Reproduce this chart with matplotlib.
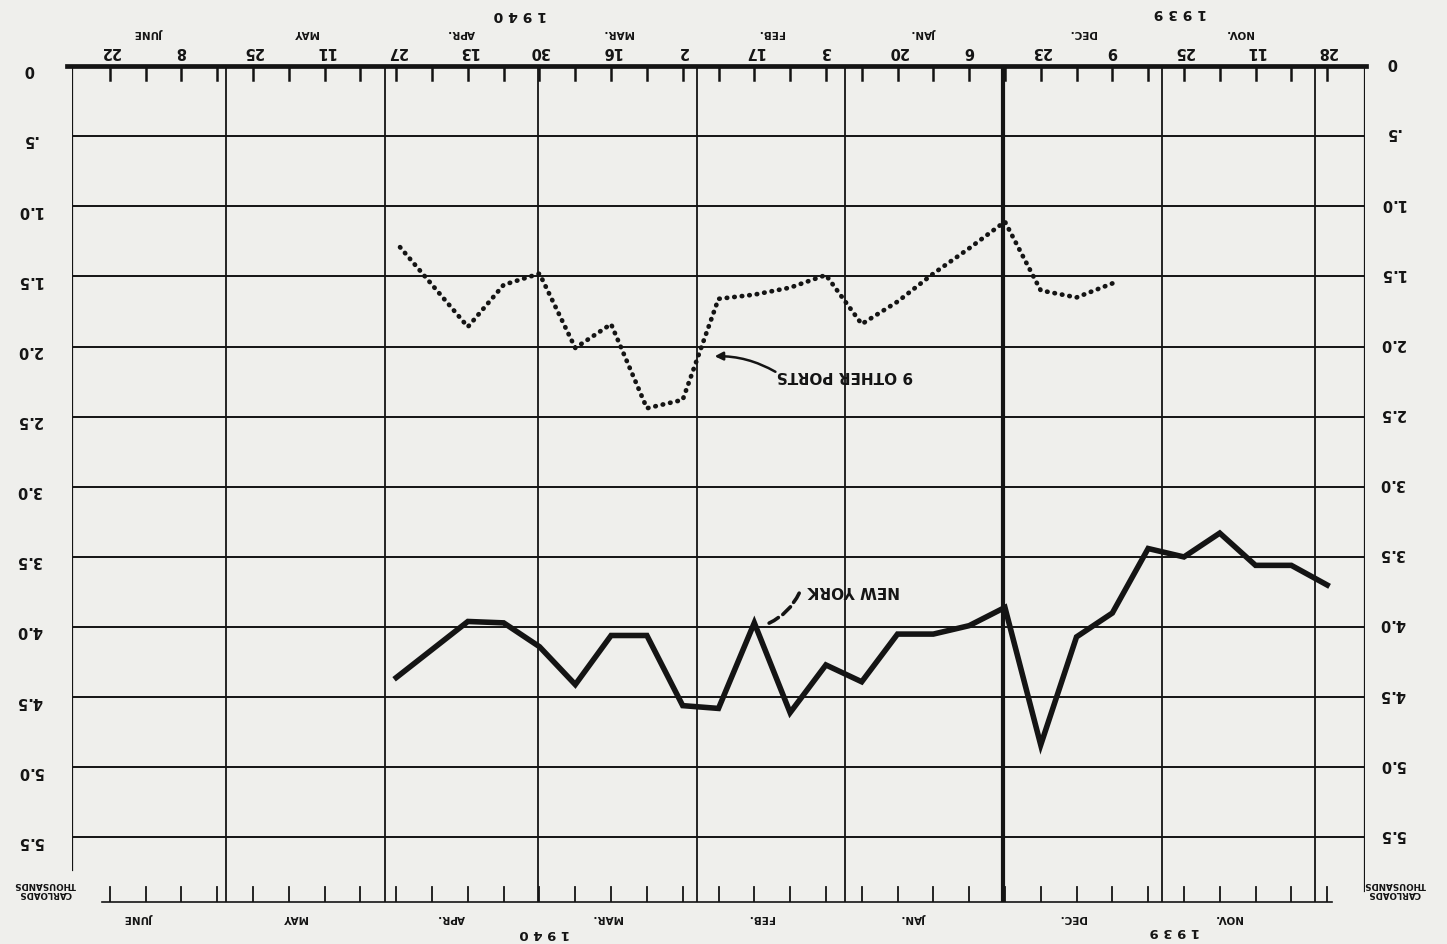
import matplotlib
matplotlib.use("Agg")
import matplotlib.pyplot as plt
import matplotlib.dates as mdates
import matplotlib.transforms as mtransforms

# weekly carloads (thousands) -- the page is printed upside down
ny_weeks = ["1939-10-28", "1939-11-04", "1939-11-11", "1939-11-18", "1939-11-25",
            "1939-12-02", "1939-12-09", "1939-12-16", "1939-12-23", "1939-12-30",
            "1940-01-06", "1940-01-13", "1940-01-20", "1940-01-27", "1940-02-03",
            "1940-02-10", "1940-02-17", "1940-02-24", "1940-03-02", "1940-03-09",
            "1940-03-16", "1940-03-23", "1940-03-30", "1940-04-06", "1940-04-13",
            "1940-04-20", "1940-04-27"]
ny_values = [3.70, 3.56, 3.56, 3.33, 3.50, 3.44, 3.90, 4.07, 4.84, 3.86,
             3.99, 4.05, 4.05, 4.39, 4.27, 4.61, 3.97, 4.58, 4.56, 4.06,
             4.06, 4.41, 4.14, 3.97, 3.96, 4.16, 4.36]

other_weeks = ny_weeks[6:]
other_values = [1.55, 1.65, 1.60, 1.11, 1.30, 1.48, 1.68, 1.84, 1.49, 1.58,
                1.63, 1.66, 2.38, 2.44, 1.84, 2.01, 1.48, 1.56, 1.86, 1.56, 1.26]

# axis furniture
tick_weeks = ["1939-10-28", "1939-11-04", "1939-11-11", "1939-11-18", "1939-11-25",
              "1939-12-02", "1939-12-09", "1939-12-16", "1939-12-23", "1939-12-30",
              "1940-01-06", "1940-01-13", "1940-01-20", "1940-01-27", "1940-02-03",
              "1940-02-10", "1940-02-17", "1940-02-24", "1940-03-02", "1940-03-09",
              "1940-03-16", "1940-03-23", "1940-03-30", "1940-04-06", "1940-04-13",
              "1940-04-20", "1940-04-27", "1940-05-04", "1940-05-11", "1940-05-18",
              "1940-05-25", "1940-06-01", "1940-06-08", "1940-06-15", "1940-06-22"]
labeled_weeks = tick_weeks[::2]
month_starts = ["1939-11-01", "1939-12-01", "1940-01-01", "1940-02-01", "1940-03-01",
                "1940-04-01", "1940-05-01", "1940-06-01", "1940-07-01"]
month_names = ["NOV.", "DEC.", "JAN.", "FEB.", "MAR.", "APR.", "MAY", "JUNE"]
y_grid = [0.5, 1.0, 1.5, 2.0, 2.5, 3.0, 3.5, 4.0, 4.5, 5.0, 5.5]
y_labels = ["0", ".5", "1.0", "1.5", "2.0", "2.5", "3.0", "3.5", "4.0", "4.5", "5.0", "5.5"]
y_label_pos = [0.0] + y_grid

BG = "#efefec"
INK = "#141414"
FONT = "DejaVu Sans"
MONTH_SHIFT = -1.7  # month rules sit a little ahead of the 1st on the original

fig = plt.figure(figsize=(14.47, 9.45), dpi=100)
fig.patch.set_facecolor(BG)
ax = fig.add_axes([72 / 1447, 1 - 903 / 945, (1365 - 72) / 1447, (903 - 67) / 945])
ax.set_facecolor(BG)
for s in ax.spines.values():
    s.set_visible(False)
ax.set_xticks([])
ax.set_yticks([])

x0 = mdates.datestr2num("1939-10-28")
ax.set_xlim(x0 + 245.4, x0 - 7.4)
ax.set_ylim(5.96, 0)
Y_BOT = 5.96

ticks = mdates.datestr2num(tick_weeks)
months = mdates.datestr2num(month_starts) + MONTH_SHIFT

# grid
for v in y_grid:
    ax.axhline(v, color=INK, lw=1.4, zorder=1)
for i, m in enumerate(months[:-1]):
    lw = 3.0 if month_starts[i] == "1940-01-01" else 1.3
    ax.axvline(m, color=INK, lw=lw, zorder=1)
# borders
ax.plot([x0 + 245.4] * 2, [0, 5.73], color=INK, lw=1.6, zorder=1)
ax.plot([x0 - 7.4] * 2, [0, 5.88], color=INK, lw=1.6, zorder=1)
ax.plot([x0 + 246.3, x0 - 7.6], [0, 0], color=INK, lw=3.4, clip_on=False, zorder=3)
ax.plot([x0 + 239.5, x0 - 1.0], [Y_BOT, Y_BOT], color=INK, lw=1.2, clip_on=False, zorder=3)

# weekly ticks
for t in ticks:
    ax.plot([t, t], [0, 0.1], color=INK, lw=1.8, zorder=3)
    ax.plot([t, t], [Y_BOT, Y_BOT - 0.11], color=INK, lw=1.3, zorder=3)

txt = dict(rotation=180, ha="center", va="center", color=INK, family=FONT,
           fontweight="bold", clip_on=False)

for d in labeled_weeks:
    ax.text(mdates.datestr2num(d), -0.11, str(int(d[-2:])), fontsize=10.5, **txt)

for i, name in enumerate(month_names):
    mid = (months[i] + months[i + 1]) / 2
    ax.text(mid, -0.245, name, fontsize=7.5, **txt)
    ax.text(mid + 2, 6.065, name, fontsize=7.5, **txt)

ax.text(x0 + 157.8, -0.37, "1 9 4 0", fontsize=10, **txt)
ax.text(x0 + 28.7, -0.385, "1 9 3 9", fontsize=10, **txt)
ax.text(x0 + 153.0, 6.18, "1 9 4 0", fontsize=9.5, **txt)
ax.text(x0 + 29.7, 6.16, "1 9 3 9", fontsize=9.5, **txt)

trans = mtransforms.blended_transform_factory(ax.transAxes, ax.transData)
for lab, v in zip(y_labels, y_label_pos):
    ax.text(-0.033, v + 0.02, lab, fontsize=10.5, transform=trans, **txt)
    ax.text(1.021, v - 0.03, lab, fontsize=10.5, transform=trans, **txt)
ax.text(-0.021, 5.86, "CARLOADS\nTHOUSANDS", fontsize=6.3, linespacing=1.0,
        transform=trans, **txt)
ax.text(1.023, 5.86, "CARLOADS\nTHOUSANDS", fontsize=6.3, linespacing=1.0,
        transform=trans, **txt)

# series
ax.plot(mdates.datestr2num(ny_weeks), ny_values, color=INK, lw=4.0,
        solid_joinstyle="miter", zorder=4)
ax.plot(mdates.datestr2num(other_weeks), other_values, color=INK, lw=3.4,
        linestyle=(0, (0.1, 1.5)), dash_capstyle="round", zorder=4)

# labels with arrows
ax.text(x0 + 94.3, 2.20, "9 OTHER PORTS", fontsize=11, **txt)
ax.annotate("", xy=(x0 + 120.3, 2.07), xytext=(x0 + 107.4, 2.19),
            arrowprops=dict(arrowstyle="-|>", color=INK, lw=1.8, mutation_scale=12,
                            connectionstyle="arc3,rad=0.15"))
ax.text(x0 + 92.6, 3.73, "NEW YORK", fontsize=11, **txt)
ax.annotate("", xy=(x0 + 109.6, 3.98), xytext=(x0 + 103.0, 3.74),
            arrowprops=dict(arrowstyle="-", color=INK, lw=2.6, linestyle=(0, (3, 1.5)),
                            connectionstyle="arc3,rad=-0.2"))

fig.savefig("out.png", dpi=100, facecolor=BG)
